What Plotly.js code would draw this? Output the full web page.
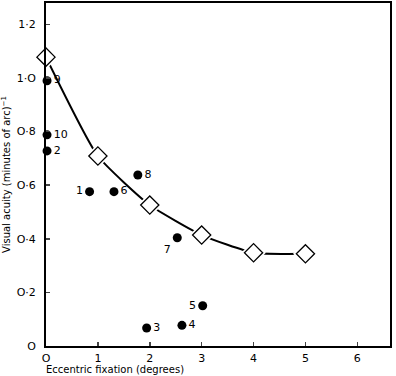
<!DOCTYPE html>
<html><head><meta charset="utf-8">
<script src="https://cdn.plot.ly/plotly-3.0.1.min.js"></script>
<style>html,body{margin:0;padding:0;background:#fff}</style>
</head><body><div id="chart" style="width:396px;height:376px"></div>
<script>
// Mean curve (open diamonds)
const curveX = [0, 1, 2, 3, 4, 5];
const curveY = [1.078, 0.709, 0.526, 0.414, 0.348, 0.344];
// Individual patients (filled circles)
const patientLabels = ["1", "6", "8", "9", "10", "2", "7", "5", "4", "3"];
const patientX = [0.84, 1.31, 1.77, 0.02, 0.02, 0.02, 2.53, 3.02, 2.62, 1.94];
const patientY = [0.576, 0.576, 0.638, 0.99, 0.788, 0.728, 0.404, 0.15, 0.077, 0.067];
const labelPos = ["middle left", "middle right", "middle right", "middle right", "middle right",
                  "middle right", "bottom left", "middle left", "middle right", "middle right"];
// Axis ticks
const xTickVals = [0, 1, 2, 3, 4, 5, 6];
const xTickText = ["O", "1", "2", "3", "4", "5", "6"];
const yTickVals = [0, 0.2, 0.4, 0.6, 0.8, 1.0, 1.2];
const yTickText = ["O", "O·2", "O·4", "O·6", "O·8", "1·O", "1·2"];

const font = "DejaVu Sans, Arial, sans-serif";
const traces = [
  {x: curveX, y: curveY, mode: "lines", line: {shape: "spline", smoothing: 0.5, color: "#000", width: 2}, hoverinfo: "skip"},
  {x: curveX, y: curveY, mode: "markers", marker: {symbol: "diamond", size: 19, color: "#fff", line: {width: 0}}, hoverinfo: "skip"},
  {x: curveX, y: curveY, mode: "markers", marker: {symbol: "diamond", size: 14, color: "#fff", line: {width: 1.3, color: "#000"}}, cliponaxis: false},
  {x: patientX, y: patientY, mode: "markers+text", text: patientLabels, textposition: labelPos,
   textfont: {family: font, size: 11, color: "#000"},
   marker: {symbol: "circle", size: 9, color: "#000"}, cliponaxis: false}
];
const layout = {
  width: 396, height: 376,
  margin: {l: 46, r: 6, t: 3, b: 30},
  paper_bgcolor: "#fff", plot_bgcolor: "#fff",
  showlegend: false,
  font: {family: font, size: 11, color: "#000"},
  xaxis: {range: [0, 6.63], tickvals: xTickVals, ticktext: xTickText, ticks: "inside", ticklen: 4, tickwidth: 1.5,
          showline: true, mirror: true, linewidth: 2, linecolor: "#000", showgrid: false, zeroline: false,
          tickfont: {family: font, size: 11}, ticklabelstandoff: 1},
  yaxis: {range: [0, 1.28], tickvals: yTickVals, ticktext: yTickText, ticks: "inside", ticklen: 4, tickwidth: 1.5,
          showline: true, mirror: true, linewidth: 2, linecolor: "#000", showgrid: false, zeroline: false,
          tickfont: {family: font, size: 11}, ticklabelstandoff: 6,
          title: {text: "Visual acuity (minutes of arc)<sup>−1</sup>", font: {family: font, size: 10}, standoff: 4}},
  annotations: [{text: "Eccentric fixation (degrees)", xref: "paper", yref: "paper", x: -0.005, y: 0, yshift: -16,
                 xanchor: "left", yanchor: "top", showarrow: false, font: {family: font, size: 10}}]
};
Plotly.newPlot("chart", traces, layout, {displayModeBar: false, staticPlot: true});
</script></body></html>
